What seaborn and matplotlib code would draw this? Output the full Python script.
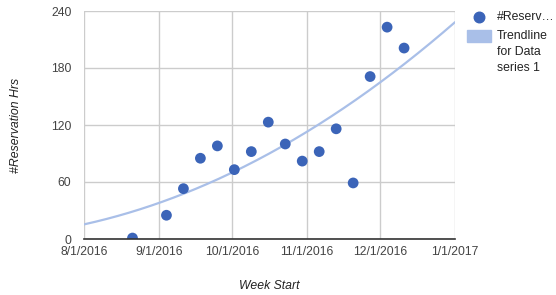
import numpy as np
import pandas as pd
import matplotlib
matplotlib.use("Agg")
import matplotlib.pyplot as plt
import matplotlib.dates as mdates
from matplotlib.lines import Line2D
from matplotlib.patches import Rectangle
import seaborn as sns

# ---- data ----
week_start = ["2016-08-21", "2016-09-04", "2016-09-11", "2016-09-18", "2016-09-25",
              "2016-10-02", "2016-10-09", "2016-10-16", "2016-10-23", "2016-10-30",
              "2016-11-06", "2016-11-13", "2016-11-20", "2016-11-27", "2016-12-04",
              "2016-12-11"]
reservation_hrs = [1, 25, 53, 85, 98, 73, 92, 123, 100, 82, 92, 116, 59, 171, 223, 201]
x_ticks = ["2016-08-01", "2016-09-01", "2016-10-01", "2016-11-01", "2016-12-01", "2017-01-01"]
x_tick_labels = ["8/1/2016", "9/1/2016", "10/1/2016", "11/1/2016", "12/1/2016", "1/1/2017"]
y_ticks = [0, 60, 120, 180, 240]
series_label = "#Reserv\u2026"
trend_label = "Trendline\nfor Data\nseries 1"

df = pd.DataFrame({"week": pd.to_datetime(week_start), "hrs": reservation_hrs})

# polynomial (degree 2) trendline fit from the data
xnum = mdates.date2num(df["week"])
coef = np.polyfit(xnum, df["hrs"], 2)
tick_dates = pd.to_datetime(x_ticks)
xmin, xmax = mdates.date2num(tick_dates[0]), mdates.date2num(tick_dates[-1])
xs = np.linspace(xmin, xmax, 300)
trend = pd.DataFrame({"week": mdates.num2date(xs), "hrs": np.polyval(coef, xs)})

# ---- style ----
sns.set_style("white")
plt.rcParams["font.family"] = ["Liberation Sans", "DejaVu Sans"]

PT_COLOR = "#3b64b8"
TREND_COLOR = "#a9bfe8"
TXT = "#444444"
GRID = "#cccccc"

fig = plt.figure(figsize=(5.56, 2.95), dpi=100)
W, H = 556, 295
ax = fig.add_axes([84 / W, 1 - 239 / H, (455 - 84) / W, (239 - 11) / H])

sns.lineplot(data=trend, x="week", y="hrs", ax=ax, color=TREND_COLOR, lw=1.6,
             zorder=2, legend=False)
sns.scatterplot(data=df, x="week", y="hrs", ax=ax, color=PT_COLOR, s=60,
                edgecolor="none", zorder=3, legend=False)

ax.set_xlim(tick_dates[0], tick_dates[-1])
ax.set_ylim(0, 240)
ax.set_xticks(tick_dates)
ax.set_xticklabels(x_tick_labels)
ax.set_yticks(y_ticks)
ax.grid(True, color=GRID, lw=1)
ax.set_axisbelow(True)
for s in ["top", "right", "left"]:
    ax.spines[s].set_visible(False)
ax.spines["bottom"].set_color("#333333")
ax.spines["bottom"].set_linewidth(1.2)
ax.spines["bottom"].set_zorder(4)
ax.tick_params(axis="both", length=0, labelsize=8.8, colors=TXT)
ax.tick_params(axis="x", pad=5)
ax.tick_params(axis="y", pad=9)

ax.set_xlabel("Week Start", fontsize=8.8, style="italic", color="#222222", labelpad=16)
ax.set_ylabel("#Reservation Hrs", fontsize=8.8, style="italic", color="#222222", labelpad=21)

# ---- legend (drawn manually to match layout) ----
fig.add_artist(Line2D([479 / W], [1 - 17 / H], marker="o", markersize=7.6,
                      color=PT_COLOR, lw=0, transform=fig.transFigure))
fig.text(497 / W, 1 - 17 / H, series_label, fontsize=8.8, color="#222222",
         va="center", ha="left")
fig.add_artist(Rectangle((467 / W, 1 - 42 / H), 24 / W, 12 / H,
                         color=TREND_COLOR, transform=fig.transFigure))
fig.text(497 / W, 1 - 30 / H, trend_label, fontsize=8.8, color="#222222",
         va="top", ha="left", linespacing=1.42)

fig.savefig("out.png", dpi=100)
